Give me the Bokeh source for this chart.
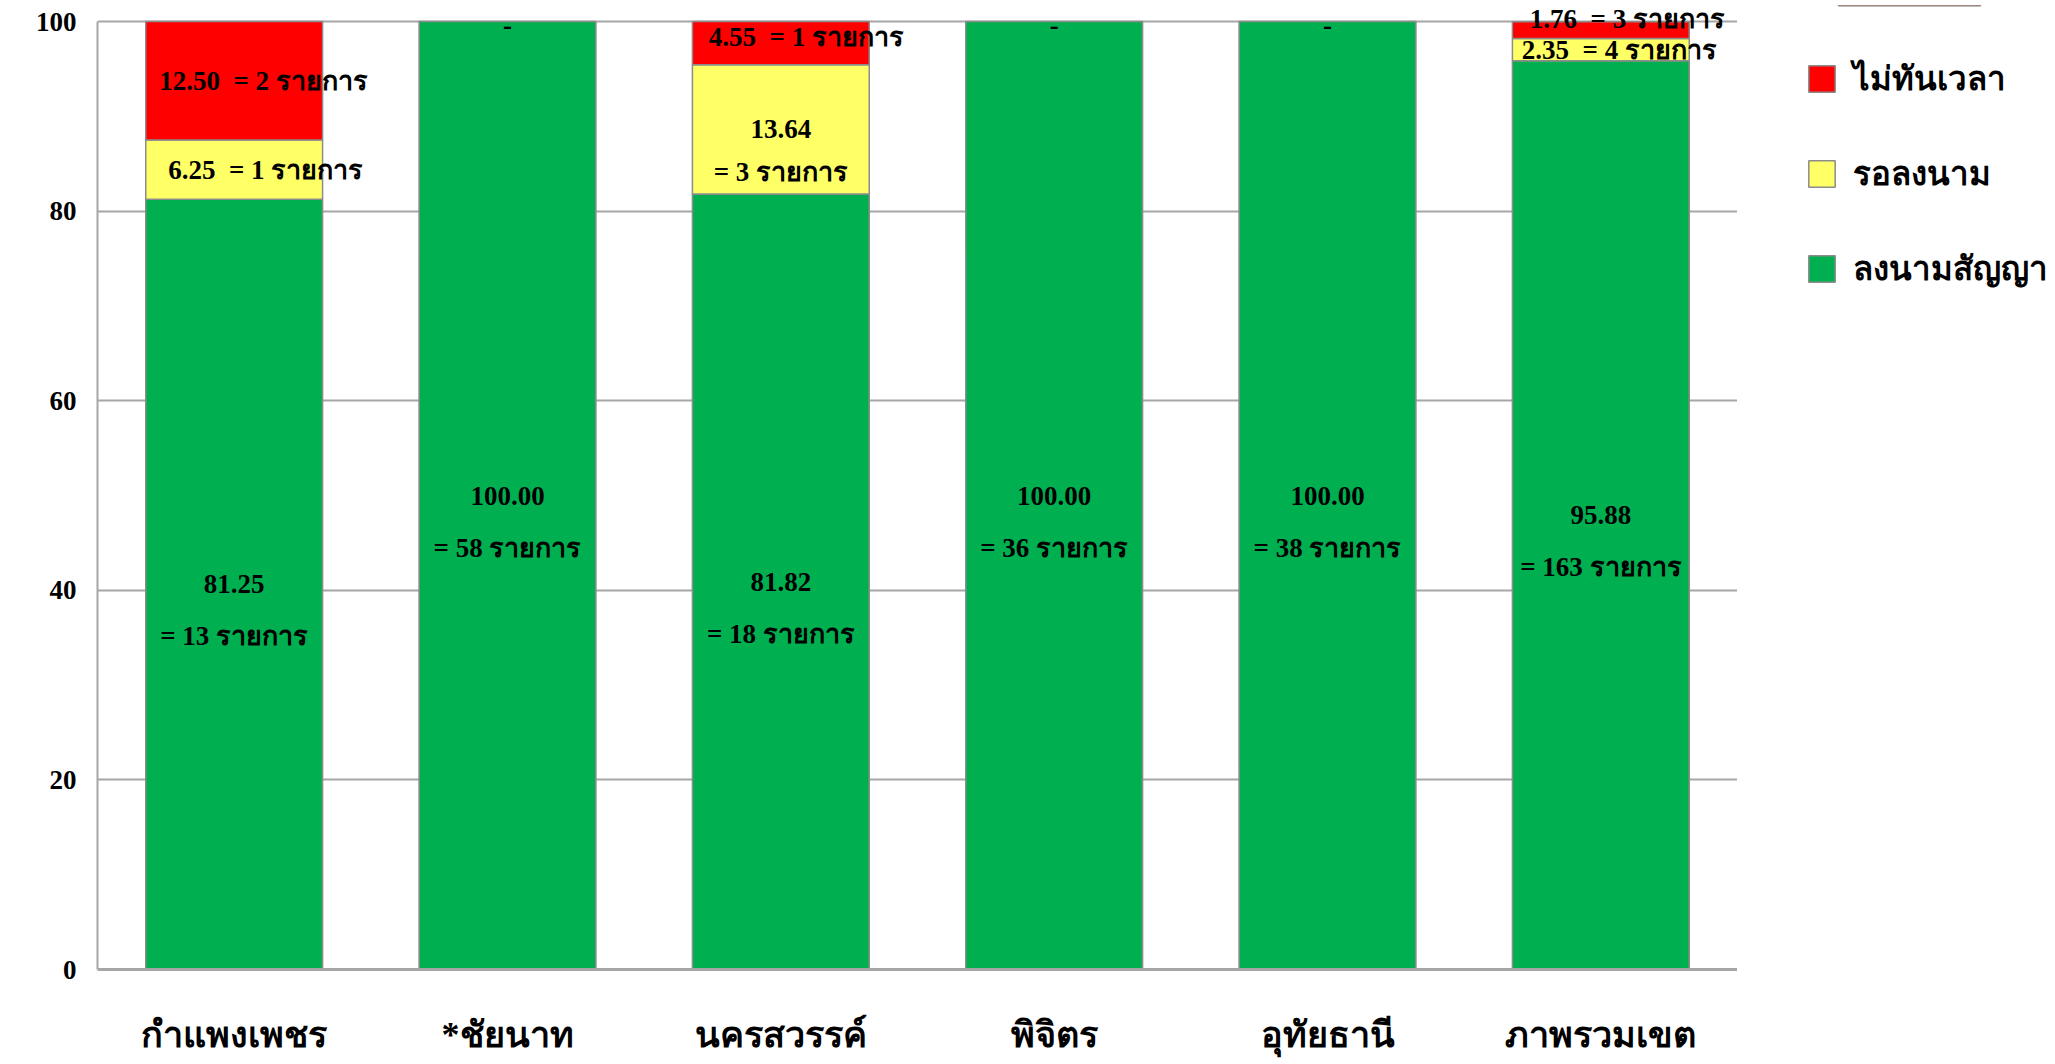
from bokeh.plotting import figure
from bokeh.layouts import row
from bokeh.models import (ColumnDataSource, Range1d, FactorRange, Legend, LegendItem,
                          FixedTicker, LabelSet)
from bokeh.core.properties import value
from bokeh.embed import file_html
from bokeh.resources import INLINE
import numpy as np

# ---------------- data ----------------
categories = ["กำแพงเพชร", "*ชัยนาท", "นครสวรรค์", "พิจิตร", "อุทัยธานี", "ภาพรวมเขต"]
signed_pct = [81.25, 100.00, 81.82, 100.00, 100.00, 95.88]
waiting_pct = [6.25, 0.00, 13.64, 0.00, 0.00, 2.35]
late_pct = [12.50, 0.00, 4.55, 0.00, 0.00, 1.76]
signed_n = [13, 58, 18, 36, 38, 163]
waiting_n = [1, 0, 3, 0, 0, 4]
late_n = [2, 0, 1, 0, 0, 3]
series_names = ["ลงนามสัญญา", "รอลงนาม", "ไม่ทันเวลา"]
unit = "รายการ"
y_ticks = [0, 20, 40, 60, 80, 100]

# ---------------- styles ----------------
colors = ["#00B050", "#FFFF66", "#FF0000"]
edge = "#8c8c8c"
grid_col = "#a6a6a6"
FONT = "Liberation Serif"
BAR_W = 0.647

# label layout (style only): one-line labels start near the bar's left edge
one_line = {("w", 0): (-66, 0), ("l", 0): (-75, 0), ("l", 2): (-72, 6),
            ("w", 5): (-79, 0), ("l", 5): (-71, 11)}
two_line_gap = {"s": -52, "w": -43}

Y_MAX = 101.7          # a little head-room above 100 so top labels are not clipped
FRAME_H = 964
TOP = 5
BOTTOM = 89
H = TOP + FRAME_H + BOTTOM

p = figure(x_range=FactorRange(*categories, range_padding=0), y_range=Range1d(0, Y_MAX),
           width=1737, height=H, output_backend="svg", toolbar_location=None,
           min_border_left=97, min_border_right=0, min_border_top=TOP,
           min_border_bottom=BOTTOM)
p.outline_line_color = None
p.background_fill_color = "white"

s = np.array(signed_pct)
w = np.array(waiting_pct)
l = np.array(late_pct)
bottoms = [np.zeros(len(s)), s, s + w]
tops = [s, s + w, s + w + l]
vals = [s, w, l]
counts = [signed_n, waiting_n, late_n]
keys = ["s", "w", "l"]

renderers = []
for k in range(3):
    idx = [i for i in range(len(categories)) if vals[k][i] > 0]
    src = ColumnDataSource(dict(x=[categories[i] for i in idx],
                                bottom=[bottoms[k][i] for i in idx],
                                top=[tops[k][i] for i in idx]))
    r = p.vbar(x="x", bottom="bottom", top="top", width=BAR_W, source=src,
               fill_color=colors[k], line_color=edge, line_width=1.5)
    renderers.append(r)

# labels
lx, ly, lt, lxo, lyo, la = [], [], [], [], [], []
for k in range(3):
    for i, c in enumerate(categories):
        v = vals[k][i]
        n = counts[k][i]
        if n == 0:
            continue
        mid = bottoms[k][i] + v / 2
        key = (keys[k], i)
        if key in one_line:
            xo, yo = one_line[key]
            lx.append(c); ly.append(mid); lt.append(f"{v:.2f}\u00a0\u00a0= {n} {unit}")
            lxo.append(xo); lyo.append(yo); la.append("left")
        else:
            gap = two_line_gap.get(keys[k], -52)
            lx.append(c); ly.append(mid); lt.append(f"{v:.2f}")
            lxo.append(0); lyo.append(0); la.append("center")
            lx.append(c); ly.append(mid); lt.append(f"= {n} {unit}")
            lxo.append(0); lyo.append(gap); la.append("center")

lab = ColumnDataSource(dict(x=lx, y=ly, text=lt, xo=lxo, yo=lyo, align=la))
p.add_layout(LabelSet(x="x", y="y", text="text", x_offset="xo", y_offset="yo",
                      text_align="align", text_baseline="middle", source=lab,
                      text_font=value(FONT), text_font_style="bold",
                      text_font_size="27px", text_color="black"))

# dashes for empty segments
dash_x = [c for i, c in enumerate(categories) if late_n[i] == 0 and waiting_n[i] == 0]
dash = ColumnDataSource(dict(x=dash_x, y=[tops[2][categories.index(c)] for c in dash_x],
                             text=["-"] * len(dash_x)))
p.add_layout(LabelSet(x="x", y="y", text="text", source=dash, text_align="center",
                      text_baseline="top", y_offset=6, text_font=value(FONT),
                      text_font_style="bold", text_font_size="27px", text_color="black"))

# axes & grid
p.ygrid.ticker = FixedTicker(ticks=y_ticks)
p.ygrid.grid_line_color = grid_col
p.ygrid.grid_line_width = 2
p.xgrid.grid_line_color = None

p.yaxis.ticker = FixedTicker(ticks=y_ticks)
p.yaxis.bounds = (0, 100)
p.yaxis.axis_line_color = grid_col
p.yaxis.axis_line_width = 2
p.yaxis.major_tick_line_color = None
p.yaxis.minor_tick_line_color = None
p.yaxis.major_label_text_font = FONT
p.yaxis.major_label_text_font_style = "bold"
p.yaxis.major_label_text_font_size = "27px"
p.yaxis.major_label_text_color = "black"
p.yaxis.major_label_standoff = 15

p.xaxis.axis_line_color = grid_col
p.xaxis.axis_line_width = 3
p.xaxis.major_tick_line_color = None
p.xaxis.minor_tick_line_color = None
p.xaxis.major_label_text_font = FONT
p.xaxis.major_label_text_font_style = "bold"
p.xaxis.major_label_text_font_size = "36px"
p.xaxis.major_label_text_color = "black"
p.xaxis.major_label_standoff = 39

# ---------------- legend (separate panel to the right) ----------------
LEG_MARGIN = 38
p2 = figure(width=314, height=H, x_range=Range1d(0, 1), y_range=Range1d(0, 1),
            x_axis_type=None, y_axis_type=None, output_backend="svg",
            toolbar_location=None, min_border_left=68 - LEG_MARGIN, min_border_top=TOP,
            min_border_right=0, min_border_bottom=BOTTOM)
p2.outline_line_color = None
p2.xgrid.visible = False
p2.ygrid.visible = False
# swatch renderers: their bars lie far outside the canvas, only the legend shows them
leg_r = [p2.vbar(x=[0.5], bottom=[1000], top=[1001], width=0.5, fill_color=colors[k],
                 line_color=edge, line_width=1.5) for k in range(3)]

legend = Legend(items=[LegendItem(label=series_names[2], renderers=[leg_r[2]]),
                       LegendItem(label=series_names[1], renderers=[leg_r[1]]),
                       LegendItem(label=series_names[0], renderers=[leg_r[0]])],
                location="top_left")
legend.glyph_width = 33
legend.glyph_height = 33
legend.label_height = 70
legend.spacing = 25
legend.padding = 0
legend.margin = LEG_MARGIN
legend.label_standoff = 15
legend.label_text_font = FONT
legend.label_text_font_style = "bold"
legend.label_text_font_size = "33px"
legend.label_text_color = "black"
legend.border_line_color = None
legend.background_fill_alpha = 0
legend.item_background_fill_alpha = 0
p2.add_layout(legend)

layout = row(p, p2, spacing=0)
open("out.html", "w").write(file_html(layout, INLINE))
